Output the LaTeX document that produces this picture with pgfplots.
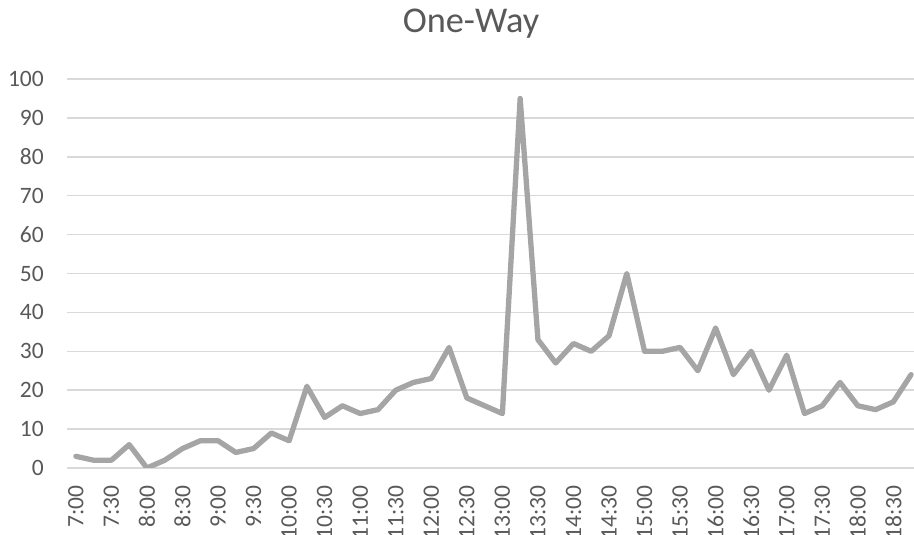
\documentclass[border=0pt]{standalone}
\usepackage{pgfplots}
\pgfplotsset{compat=1.18}
\usepackage{fontspec}
\setmainfont{Carlito}
\definecolor{txt}{HTML}{595959}
\definecolor{gridc}{HTML}{D9D9D9}
\definecolor{linec}{HTML}{A5A5A5}
\begin{document}
\begin{tikzpicture}[x=1pt,y=1pt]
\useasboundingbox (0,0) rectangle (914,535);
\node[anchor=base, text=txt, font=\fontsize{36.3}{40}\selectfont, inner sep=0pt] at (471,502) {One-Way};
\begin{axis}[
  at={(67pt,67pt)}, anchor=south west,
  scale only axis, width=853pt, height=389pt,
  xmin=-0.5, xmax=47.5, ymin=0, ymax=100,
  ytick={0,10,...,100},
  xtick={0,2,...,46},
  xticklabels={7:00,7:30,8:00,8:30,9:00,9:30,10:00,10:30,11:00,11:30,12:00,12:30,13:00,13:30,14:00,14:30,15:00,15:30,16:00,16:30,17:00,17:30,18:00,18:30},
  axis line style={draw=none},
  major tick length=0pt,
  ymajorgrids, grid style={gridc, line width=1.5pt},
  tick label style={text=txt, font=\fontsize{23.5}{26}\selectfont, inner sep=0pt},
  /pgf/number format/assume math mode=true,
  yticklabel style={anchor=east},
  yticklabel shift=23pt,
  xticklabel style={rotate=90, anchor=east},
  xticklabel shift=17pt,
]
\addplot[linec, line width=5.3pt, line join=round, line cap=round] coordinates {
(0,3)(1,2)(2,2)(3,6)(4,0)(5,2)(6,5)(7,7)(8,7)(9,4)(10,5)(11,9)
(12,7)(13,21)(14,13)(15,16)(16,14)(17,15)(18,20)(19,22)(20,23)(21,31)(22,18)(23,16)
(24,14)(25,95)(26,33)(27,27)(28,32)(29,30)(30,34)(31,50)(32,30)(33,30)(34,31)(35,25)
(36,36)(37,24)(38,30)(39,20)(40,29)(41,14)(42,16)(43,22)(44,16)(45,15)(46,17)(47,24)
};
\end{axis}
\end{tikzpicture}
\end{document}
